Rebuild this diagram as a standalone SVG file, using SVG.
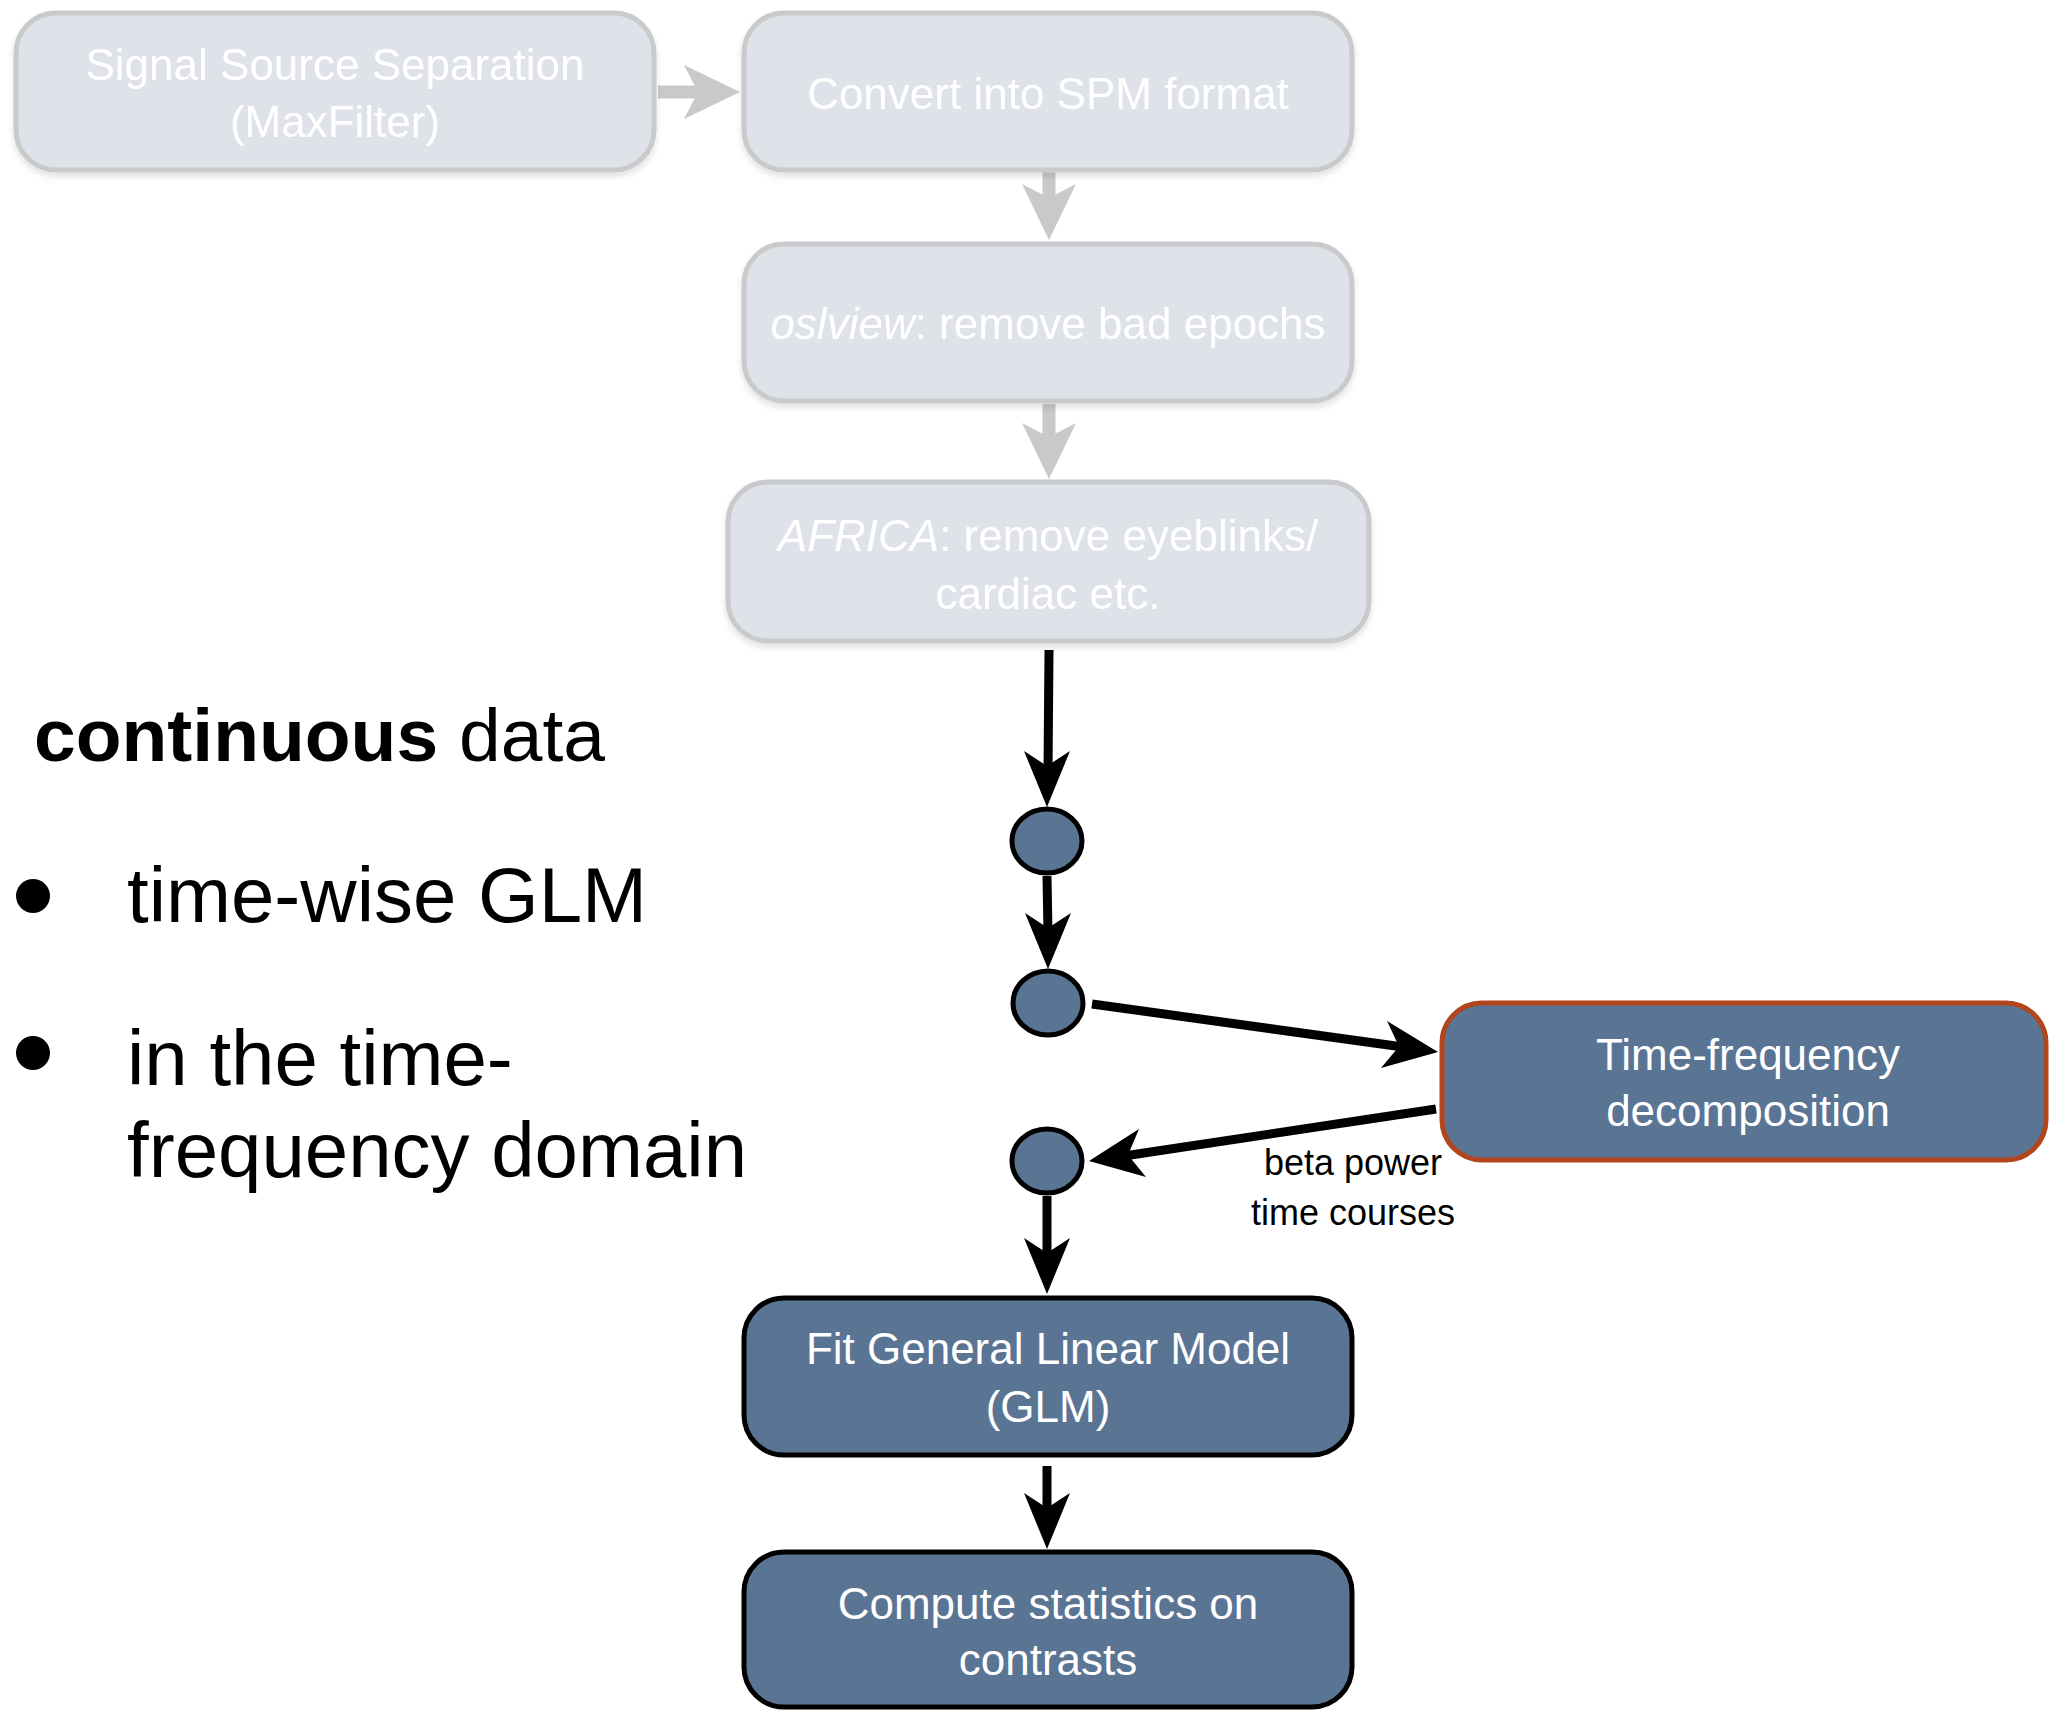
<svg xmlns="http://www.w3.org/2000/svg" width="2050" height="1711" viewBox="0 0 2050 1711">
<defs>
<style>
.gbox{fill:#dfe3e9;stroke:#c9cacc;stroke-width:5}
.bbox{fill:#5a7494;stroke:#000;stroke-width:5}
.tfbox{fill:#5a7494;stroke:#b1461c;stroke-width:5}
.circ{fill:#5a7494;stroke:#000;stroke-width:5}
.gt{font-family:"Liberation Sans",Arial,sans-serif;font-size:44px;fill:#ffffff;text-anchor:middle}
.bt{font-family:"Liberation Sans",Arial,sans-serif;font-size:44px;fill:#ffffff;text-anchor:middle}
.lbl{font-family:"Liberation Sans",Arial,sans-serif;font-size:36px;fill:#000;text-anchor:middle}
.big{font-family:"Liberation Sans",Arial,sans-serif;font-size:78px;fill:#000}
.head{font-family:"Liberation Sans",Arial,sans-serif;font-size:75px;fill:#000}
.gline{stroke:#c9c9c9;stroke-width:13;fill:none}
.bline{stroke:#000;stroke-width:9;fill:none}
.ghead{fill:#c9c9c9}
.bhead{fill:#000}
</style>
<filter id="shadow" x="-5%" y="-5%" width="110%" height="120%">
<feDropShadow dx="0" dy="4" stdDeviation="3" flood-color="#000" flood-opacity="0.12"/>
</filter>
</defs>
<rect width="2050" height="1711" fill="#ffffff"/>

<g id="connectors">
<line class="gline" x1="658" y1="92" x2="705" y2="92"/>
<path class="ghead" d="M740,92 L684,65 L698,92 L684,119 Z"/>
<line class="gline" x1="1049" y1="172" x2="1049" y2="205"/>
<path class="ghead" d="M1049,240 L1022,184 L1049,198 L1076,184 Z"/>
<line class="gline" x1="1049" y1="404" x2="1049" y2="444"/>
<path class="ghead" d="M1049,479 L1022,423 L1049,437 L1076,423 Z"/>
<line class="bline" x1="1049" y1="650" x2="1048" y2="772"/>
<path class="bhead" d="M1047,807 L1024,751 L1047,766 L1070,751 Z"/>
<line class="bline" x1="1047" y1="876" x2="1048" y2="934"/>
<path class="bhead" d="M1048,969 L1025,913 L1048,928 L1071,913 Z"/>
<line class="bline" x1="1092" y1="1004" x2="1403" y2="1047"/>
<path class="bhead" d="M1438,1052 L1387,1021 L1399,1046.5 L1381,1068 Z"/>
<line class="bline" x1="1436" y1="1109" x2="1124" y2="1156"/>
<path class="bhead" d="M1089,1161 L1139,1129 L1128,1155 L1146,1177 Z"/>
<line class="bline" x1="1047" y1="1196" x2="1047" y2="1259"/>
<path class="bhead" d="M1047,1294 L1024,1238 L1047,1253 L1070,1238 Z"/>
<line class="bline" x1="1047" y1="1466" x2="1047" y2="1514"/>
<path class="bhead" d="M1047,1549 L1024,1493 L1047,1508 L1070,1493 Z"/>
</g>

<g id="node-sss" filter="url(#shadow)">
<rect class="gbox" x="16" y="13" width="638" height="157" rx="40"/>
<text class="gt" x="335" y="80">Signal Source Separation</text>
<text class="gt" x="335" y="137">(MaxFilter)</text>
</g>
<g id="node-spm" filter="url(#shadow)">
<rect class="gbox" x="744" y="13" width="608" height="157" rx="40"/>
<text class="gt" x="1048" y="109">Convert into SPM format</text>
</g>
<g id="node-oslview" filter="url(#shadow)">
<rect class="gbox" x="744" y="244" width="608" height="157" rx="40"/>
<text class="gt" x="1048" y="339"><tspan font-style="italic">oslview</tspan>: remove bad epochs</text>
</g>
<g id="node-africa" filter="url(#shadow)">
<rect class="gbox" x="728" y="482" width="641" height="159" rx="40"/>
<text class="gt" x="1048" y="551"><tspan font-style="italic">AFRICA</tspan>: remove eyeblinks/</text>
<text class="gt" x="1048" y="609">cardiac etc.</text>
</g>

<g id="node-c1"><ellipse class="circ" cx="1047" cy="841" rx="35" ry="32"/></g>
<g id="node-c2"><ellipse class="circ" cx="1048" cy="1003" rx="35" ry="32"/></g>
<g id="node-c3"><ellipse class="circ" cx="1047" cy="1161" rx="35" ry="32"/></g>

<g id="node-tf">
<rect class="tfbox" x="1442" y="1003" width="604" height="157" rx="40"/>
<text class="bt" x="1748" y="1070">Time-frequency</text>
<text class="bt" x="1748" y="1126">decomposition</text>
</g>
<g id="label-beta">
<text class="lbl" x="1353" y="1175">beta power</text>
<text class="lbl" x="1353" y="1225">time courses</text>
</g>
<g id="node-glm">
<rect class="bbox" x="744" y="1298" width="608" height="157" rx="40"/>
<text class="bt" x="1048" y="1364">Fit General Linear Model</text>
<text class="bt" x="1048" y="1422">(GLM)</text>
</g>
<g id="node-stats">
<rect class="bbox" x="744" y="1552" width="608" height="155" rx="40"/>
<text class="bt" x="1048" y="1619">Compute statistics on</text>
<text class="bt" x="1048" y="1675">contrasts</text>
</g>

<g id="side-text">
<text class="head" x="34" y="761"><tspan font-weight="bold">continuous</tspan> data</text>
<circle cx="33" cy="896" r="17" fill="#000"/>
<text class="big" x="127" y="922">time-wise GLM</text>
<circle cx="33" cy="1053" r="17" fill="#000"/>
<text class="big" x="127" y="1085">in the time-</text>
<text class="big" x="127" y="1177">frequency domain</text>
</g>
</svg>
